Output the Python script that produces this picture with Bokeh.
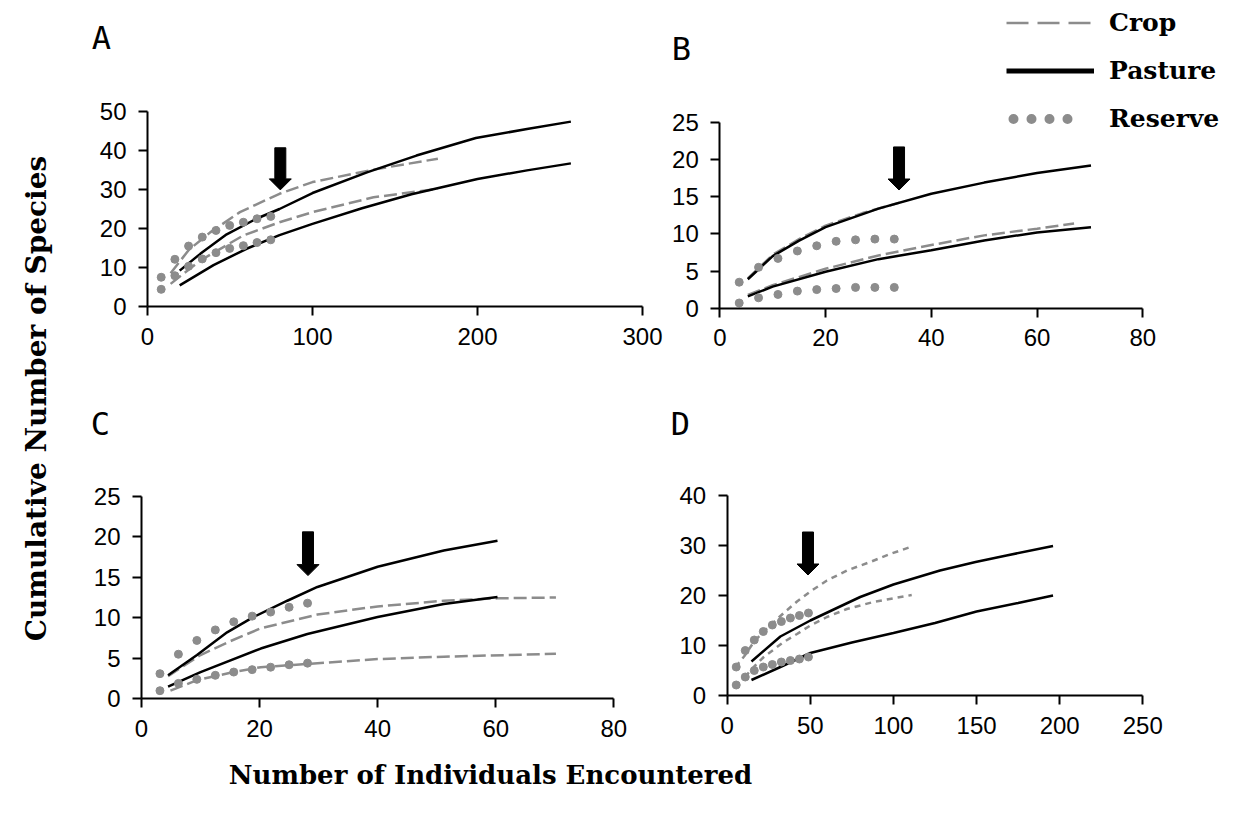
import numpy as np
from bokeh.plotting import figure
from bokeh.models import Range1d, Label, Legend, LegendItem, FixedTicker, LinearAxis
from bokeh.embed import file_html
from bokeh.resources import INLINE

# ---------------- data ----------------
# Panel A
a_past_hi_x = [19.5, 32, 48, 66, 80, 100, 133, 163, 199, 230, 256.6]
a_past_hi_y = [9.2, 13.5, 18.5, 22.5, 25.0, 29.1, 34.4, 38.7, 43.2, 45.5, 47.4]
a_past_lo_x = [19.5, 40, 60, 80, 100, 130, 160, 200, 230, 256.6]
a_past_lo_y = [5.4, 10.6, 14.8, 18.3, 21.2, 25.2, 28.8, 32.7, 34.9, 36.7]
a_crop_hi_x = [14, 25, 38, 56, 80, 100, 137, 176]
a_crop_hi_y = [8.5, 14.5, 19.0, 24.2, 28.9, 31.9, 35.1, 37.9]
a_crop_lo_x = [14, 32, 58, 80, 100, 137, 176]
a_crop_lo_y = [5.8, 11.8, 18.2, 21.6, 24.2, 28.0, 30.2]
a_res_x = [8.3, 16.6, 24.9, 33.2, 41.5, 49.8, 58.1, 66.4, 74.7]
a_res_hi = [7.5, 12.1, 15.5, 17.8, 19.5, 20.8, 21.6, 22.5, 23.1]
a_res_lo = [4.4, 7.9, 10.3, 12.2, 13.8, 14.9, 15.6, 16.4, 17.1]
a_arrow = (80.5, 40.7, 29.9)

# Panel B
b_past_hi_x = [5.3, 10, 15, 20, 30, 40, 50, 60, 70.2]
b_past_hi_y = [3.9, 7.0, 9.1, 10.9, 13.4, 15.4, 16.9, 18.2, 19.2]
b_past_lo_x = [5.3, 10, 20, 30, 40, 50, 60, 70.2]
b_past_lo_y = [1.6, 2.9, 4.9, 6.6, 7.8, 9.1, 10.2, 10.9]
b_crop_hi_x = [5.3, 10, 15, 20, 27, 34]
b_crop_hi_y = [4.0, 7.2, 9.3, 11.1, 12.8, 14.2]
b_crop_lo_x = [5.3, 10, 20, 30, 40, 50, 60, 67]
b_crop_lo_y = [1.8, 3.1, 5.3, 7.1, 8.5, 9.8, 10.7, 11.4]
b_res_x = [3.67, 7.33, 11.0, 14.67, 18.33, 22.0, 25.67, 29.33, 33.0]
b_res_hi = [3.5, 5.5, 6.7, 7.7, 8.4, 9.0, 9.2, 9.3, 9.3]
b_res_lo = [0.7, 1.4, 1.85, 2.3, 2.5, 2.65, 2.8, 2.8, 2.8]
b_arrow = (33.9, 21.7, 15.9)

# Panel C
c_past_hi_x = [4.5, 9.4, 14.5, 19, 24.7, 29.8, 40, 51.2, 60.3]
c_past_hi_y = [2.9, 5.4, 8.2, 10.1, 12.1, 13.8, 16.3, 18.3, 19.5]
c_past_lo_x = [4.5, 10, 20.2, 28.1, 40, 51.2, 60.3]
c_past_lo_y = [1.5, 3.3, 6.2, 8.0, 10.1, 11.7, 12.55]
c_crop_hi_x = [4.5, 10, 15, 20.2, 29.8, 40, 51.2, 60.3, 70.2]
c_crop_hi_y = [2.8, 5.4, 7.1, 8.7, 10.4, 11.4, 12.1, 12.4, 12.5]
c_crop_lo_x = [4.9, 9.4, 15.6, 20.2, 28.1, 40, 51.2, 70.2]
c_crop_lo_y = [1.0, 2.3, 3.3, 3.9, 4.3, 4.9, 5.2, 5.55]
c_res_x = [3.125, 6.25, 9.375, 12.5, 15.625, 18.75, 21.875, 25.0, 28.125]
c_res_hi = [3.1, 5.5, 7.2, 8.5, 9.5, 10.2, 10.7, 11.3, 11.8]
c_res_lo = [1.0, 1.9, 2.4, 2.9, 3.3, 3.6, 3.9, 4.2, 4.4]
c_arrow = (28.2, 20.6, 15.2)

# Panel D
d_past_hi_x = [14.6, 32, 50, 80, 100, 128, 149.4, 168, 196]
d_past_hi_y = [6.8, 11.8, 15.0, 19.7, 22.2, 25.0, 26.7, 28.0, 29.9]
d_past_lo_x = [14.6, 32, 50, 75, 100, 125, 150, 175, 196]
d_past_lo_y = [3.1, 5.7, 8.5, 10.6, 12.5, 14.5, 16.8, 18.5, 20.0]
d_crop_hi_x = [5, 10.6, 16, 21.6, 26.8, 34, 42, 50, 60, 72, 86, 98, 111]
d_crop_hi_y = [5.7, 8.0, 10.7, 12.7, 14.3, 16.5, 18.8, 20.8, 23.0, 25.0, 26.7, 28.3, 29.8]
d_crop_lo_x = [10.6, 16, 22, 34, 42, 50, 60, 72, 88, 111]
d_crop_lo_y = [3.7, 5.7, 7.7, 10.7, 12.3, 14.0, 15.7, 17.3, 18.7, 20.1]
d_res_x = [5.43, 10.86, 16.29, 21.72, 27.15, 32.58, 38.01, 43.44, 48.87]
d_res_hi = [5.7, 9.0, 11.1, 12.8, 14.1, 14.8, 15.5, 16.0, 16.5]
d_res_lo = [2.1, 3.7, 5.0, 5.7, 6.2, 6.7, 7.0, 7.3, 7.7]
d_arrow = (48.6, 32.7, 24.1)

panel_letters = ["A", "B", "C", "D"]
legend_labels = ["Crop", "Pasture", "Reserve"]
x_title = "Number of Individuals Encountered"
y_title = "Cumulative Number of Species"

# ---------------- layout & styling ----------------
W, H = 1256, 823
GRAY = "#8c8c8c"
TICK_FONT = "Liberation Sans"
TITLE_FONT = "DejaVu Serif"

# where each panel's plot area sits on the page (px from top-left)
FRAMES = {
    "A": dict(x0=147.0, x1=642.0, y0=306.0, y1=111.0, xmax=300, ymax=50, xstep=100, ystep=10),
    "B": dict(x0=719.3, x1=1142.3, y0=307.7, y1=121.9, xmax=80, ymax=25, xstep=20, ystep=5),
    "C": dict(x0=141.0, x1=613.3, y0=698.3, y1=495.7, xmax=80, ymax=25, xstep=20, ystep=5),
    "D": dict(x0=726.7, x1=1142.3, y0=695.0, y1=495.0, xmax=250, ymax=40, xstep=50, ystep=10),
}
LETTER_POS = {"A": (101, 37), "B": (681, 48), "C": (100, 423), "D": (680, 423)}

p = figure(width=W, height=H, x_range=Range1d(0, W), y_range=Range1d(0, H),
           x_axis_type=None, y_axis_type=None, output_backend="svg",
           toolbar_location=None, min_border=0)
p.outline_line_color = None
p.background_fill_color = "white"
p.border_fill_color = "white"


def setup_panel(name):
    g = FRAMES[name]
    kx = g["xmax"] / (g["x1"] - g["x0"])          # data units per px
    xs = -g["x0"] * kx
    b0, b1 = H - g["y0"], H - g["y1"]
    ky = g["ymax"] / (b1 - b0)
    ys = -b0 * ky
    nx, ny = name + "x", name + "y"
    p.extra_x_ranges[nx] = Range1d(xs, xs + W * kx)
    p.extra_y_ranges[ny] = Range1d(ys, ys + H * ky)

    xa = LinearAxis(x_range_name=nx, y_range_name=ny, fixed_location=0,
                    bounds=(0, g["xmax"]),
                    ticker=FixedTicker(ticks=list(range(0, g["xmax"] + 1, g["xstep"]))))
    ya = LinearAxis(x_range_name=nx, y_range_name=ny, fixed_location=0,
                    bounds=(0, g["ymax"]),
                    ticker=FixedTicker(ticks=list(range(0, g["ymax"] + 1, g["ystep"]))))
    for ax in (xa, ya):
        ax.axis_line_width = 2
        ax.axis_line_color = "black"
        ax.major_tick_line_width = 2
        ax.major_tick_line_color = "black"
        ax.major_tick_out = 9
        ax.major_tick_in = 0
        ax.minor_tick_line_color = None
        ax.major_label_text_font = TICK_FONT
        ax.major_label_text_font_size = "24px"
        ax.major_label_text_color = "black"
    xa.major_label_standoff = 12
    ya.major_label_standoff = 12
    p.add_layout(xa, "below")
    p.add_layout(ya, "left")

    lx, ly = LETTER_POS[name]
    p.add_layout(Label(x=lx, y=H - ly, text=name, text_font="DejaVu Sans Mono",
                       text_font_size="32px", text_align="center", text_baseline="middle",
                       text_color="black"))
    return nx, ny, kx, ky


def draw(name, past, crops, res, arrow, crop_dash):
    nx, ny, kx, ky = setup_panel(name)
    for (cx, cy) in crops:
        p.line(cx, cy, line_color=GRAY, line_width=2.5, line_dash=crop_dash,
               x_range_name=nx, y_range_name=ny)
    for (qx, qy) in past:
        p.line(qx, qy, line_color="black", line_width=2.5, x_range_name=nx, y_range_name=ny)
    rx, rh, rl = res
    for ry in (rh, rl):
        p.scatter(rx, ry, size=8, color=GRAY, x_range_name=nx, y_range_name=ny)
    # block arrow (shaft 11 px wide, head 22 px wide, 11 px long)
    ax_, top, tip = arrow
    sw, hw, hl = 5.5 * kx, 11 * kx, 11 * ky
    xs = [ax_ - sw, ax_ + sw, ax_ + sw, ax_ + hw, ax_, ax_ - hw, ax_ - sw]
    ys = [top, top, tip + hl, tip + hl, tip, tip + hl, tip + hl]
    p.patch(xs, ys, fill_color="black", line_color="black", line_width=1,
            x_range_name=nx, y_range_name=ny)


draw("A", [(a_past_hi_x, a_past_hi_y), (a_past_lo_x, a_past_lo_y)],
     [(a_crop_hi_x, a_crop_hi_y), (a_crop_lo_x, a_crop_lo_y)],
     (a_res_x, a_res_hi, a_res_lo), a_arrow, "13 5")
draw("B", [(b_past_hi_x, b_past_hi_y), (b_past_lo_x, b_past_lo_y)],
     [(b_crop_hi_x, b_crop_hi_y), (b_crop_lo_x, b_crop_lo_y)],
     (b_res_x, b_res_hi, b_res_lo), b_arrow, "13 5")
draw("C", [(c_past_hi_x, c_past_hi_y), (c_past_lo_x, c_past_lo_y)],
     [(c_crop_hi_x, c_crop_hi_y), (c_crop_lo_x, c_crop_lo_y)],
     (c_res_x, c_res_hi, c_res_lo), c_arrow, "13 5")
draw("D", [(d_past_hi_x, d_past_hi_y), (d_past_lo_x, d_past_lo_y)],
     [(d_crop_hi_x, d_crop_hi_y), (d_crop_lo_x, d_crop_lo_y)],
     (d_res_x, d_res_hi, d_res_lo), d_arrow, "6 5")

# legend (top right); its sample renderers hold no drawable data
NOTHING = np.array([np.nan])
r_crop = p.line(x=NOTHING, y=NOTHING, line_color=GRAY, line_width=2.5, line_dash="22 9")
r_past = p.line(x=NOTHING, y=NOTHING, line_color="black", line_width=5)
r_res = p.line(x=NOTHING, y=NOTHING, line_color=GRAY, line_width=10,
               line_dash="0 18 0 18 0 18 0 200", line_cap="round", line_dash_offset=-7)
LEG_LEFT, LEG_TOP, ROW_H, ROW_GAP = 1006, 7.5, 29, 19
legend = Legend(items=[LegendItem(label=legend_labels[0], renderers=[r_crop]),
                       LegendItem(label=legend_labels[1], renderers=[r_past]),
                       LegendItem(label=legend_labels[2], renderers=[r_res])],
                location=(LEG_LEFT, H - LEG_TOP - (3 * ROW_H + 2 * ROW_GAP)),
                orientation="vertical",
                glyph_width=88, glyph_height=ROW_H, label_height=ROW_H, spacing=ROW_GAP,
                padding=0, margin=0, border_line_color=None, background_fill_alpha=0,
                label_standoff=15, label_text_font=TITLE_FONT, label_text_font_style="bold",
                label_text_font_size="25px", label_text_color="black")
p.add_layout(legend)

# axis titles
p.add_layout(Label(x=36, y=H - 398, text=y_title, angle=np.pi / 2,
                   text_font=TITLE_FONT, text_font_style="bold", text_font_size="28px",
                   text_align="center", text_baseline="middle", text_color="black"))
p.add_layout(Label(x=490, y=H - 774, text=x_title,
                   text_font=TITLE_FONT, text_font_style="bold", text_font_size="26px",
                   text_align="center", text_baseline="middle", text_color="black"))

with open("out.html", "w") as f:
    f.write(file_html(p, INLINE))
